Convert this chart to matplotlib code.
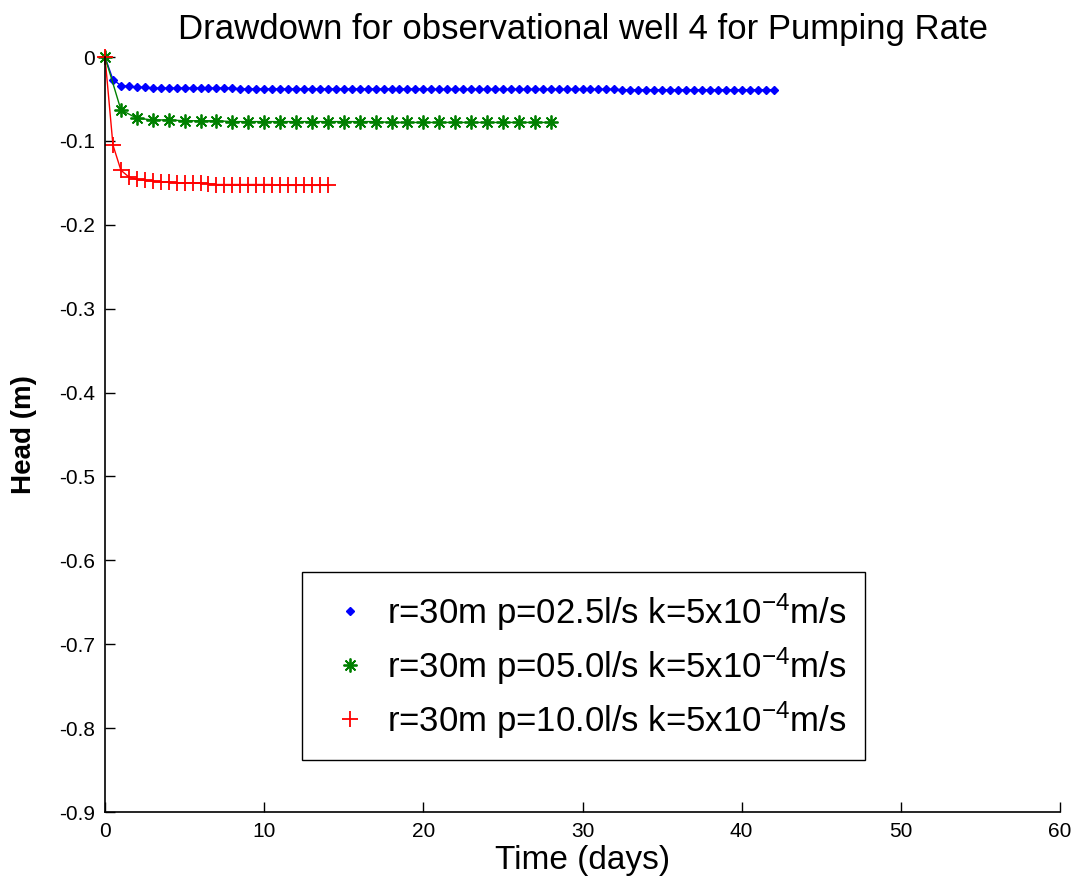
import matplotlib
matplotlib.use("Agg")
import matplotlib.pyplot as plt

plt.rcParams['font.family'] = ['Liberation Sans', 'DejaVu Sans']
plt.rcParams['mathtext.default'] = 'regular'

# ---------------- data ----------------
t_blue = [i * 0.5 for i in range(85)]          # 0 .. 42 days, step 0.5
h_blue = ([0.0, -0.027, -0.034, -0.035, -0.036, -0.036]
          + [-0.037] * 11
          + [-0.038] * 24
          + [-0.0385] * 24
          + [-0.039] * 20)
t_green = list(range(29))                       # 0 .. 28 days, step 1
h_green = ([0.0, -0.063, -0.073, -0.075, -0.075, -0.076, -0.076, -0.076]
           + [-0.077] * 10
           + [-0.078] * 11)
t_red = [i * 0.5 for i in range(29)]            # 0 .. 14 days, step 0.5
h_red = ([0.0, -0.105, -0.135, -0.143, -0.146, -0.147, -0.148, -0.149,
          -0.149, -0.150, -0.150, -0.150, -0.150, -0.151]
         + [-0.152] * 8
         + [-0.153] * 7)

labels = [r'r=30m p=02.5l/s k=5x10$^{-4}$m/s',
          r'r=30m p=05.0l/s k=5x10$^{-4}$m/s',
          r'r=30m p=10.0l/s k=5x10$^{-4}$m/s']
xticks = [0, 10, 20, 30, 40, 50, 60]
yticks = [0, -0.1, -0.2, -0.3, -0.4, -0.5, -0.6, -0.7, -0.8, -0.9]
ytick_labels = ['0', '-0.1', '-0.2', '-0.3', '-0.4', '-0.5', '-0.6', '-0.7', '-0.8', '-0.9']

# ---------------- figure ----------------
fig = plt.figure(figsize=(10.76, 8.94), dpi=100)
ax = fig.add_axes([105/1076, 82/894, 955/1076, 755/894])

ax.plot(t_blue, h_blue, color='#0000ff', marker='D', markersize=4.5, lw=1.0,
        label=labels[0], clip_on=False)
ax.plot(t_green, h_green, color='#008000', marker=(8, 2, 0), markersize=10,
        markeredgewidth=1.3, lw=1.0, label=labels[1], clip_on=False)
ax.plot(t_red, h_red, color='#ff0000', marker='+', markersize=12,
        markeredgewidth=1.3, lw=1.0, label=labels[2], clip_on=False)

ax.set_xlim(0, 60)
ax.set_ylim(-0.9, 0)
ax.set_xticks(xticks)
ax.set_yticks(yticks)
ax.set_yticklabels(ytick_labels)
ax.tick_params(direction='in', length=7, width=1.0, pad=7, colors='black',
               labelsize=15)
ax.spines['top'].set_visible(False)
ax.spines['right'].set_visible(False)
for s in ('left', 'bottom'):
    ax.spines[s].set_linewidth(1.2)

ax.set_title('Drawdown for observational well 4 for Pumping Rate', fontsize=25, pad=13)
ax.set_xlabel('Time (days)', fontsize=24, labelpad=3)
ax.set_ylabel('Head (m)', fontsize=20, fontweight='bold', labelpad=16)

leg = ax.legend(loc='lower left', bbox_to_anchor=(0.206, 0.069), fontsize=25,
                frameon=True, fancybox=False, framealpha=1, edgecolor='black',
                borderpad=0.55, labelspacing=0.36, handlelength=1.7,
                handletextpad=0.2, borderaxespad=0)
leg.get_frame().set_linewidth(1.0)
for h in leg.get_lines():
    h.set_linestyle('None')

fig.savefig('out.png', dpi=100)
